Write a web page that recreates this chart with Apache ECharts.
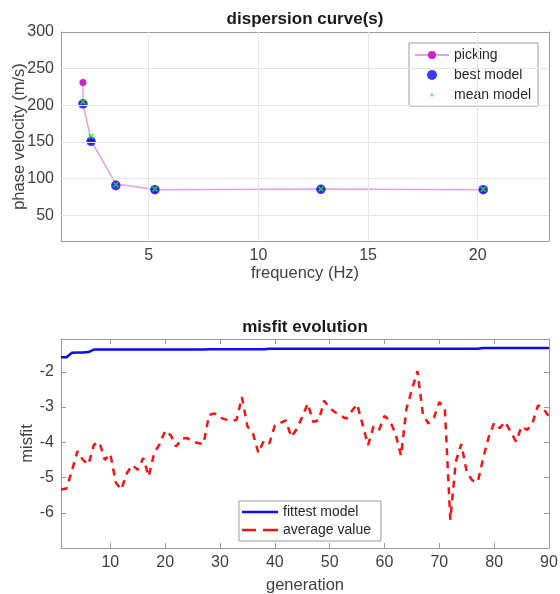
<!DOCTYPE html>
<html>
<head>
<meta charset="utf-8">
<script src="https://cdn.jsdelivr.net/npm/echarts@6/dist/echarts.min.js"></script>
<style>html,body{margin:0;padding:0;background:#fff}#c{width:560px;height:594px}</style>
</head>
<body>
<div id="c"></div>
<script>
// ---- dispersion curve data ----
const freqPicking = [2.0, 2.0, 2.37, 3.5, 5.28, 12.85, 20.25];
const velPicking  = [231, 203, 152, 93, 85, 86, 85];
const freqModel   = [2.0, 2.37, 3.5, 5.28, 12.85, 20.25];
const velBest     = [202, 151, 90.5, 85, 85.5, 85];
const velMean     = [204.5, 158, 92, 86, 86, 85.5];
const freqTicks   = [5, 10, 15, 20];
const velTicks    = [50, 100, 150, 200, 250, 300];

// ---- misfit evolution data (generation 1..90) ----
const fittest = [
  -1.59,-1.59,-1.46,-1.45,-1.45,-1.44,
  -1.37,-1.37,-1.37,-1.37,-1.37,-1.37,-1.37,-1.37,-1.37,-1.37,-1.37,
  -1.37,-1.37,-1.37,-1.37,-1.37,-1.37,-1.37,-1.37,-1.37,-1.37,
  -1.36,-1.36,-1.36,-1.36,-1.36,-1.36,-1.36,-1.36,-1.36,-1.36,-1.36,
  -1.345,-1.345,-1.345,-1.345,-1.345,-1.345,-1.345,-1.345,-1.345,-1.345,-1.345,-1.345,-1.345,
  -1.345,-1.345,-1.345,-1.345,-1.345,-1.345,-1.345,-1.345,-1.345,-1.345,-1.345,-1.345,-1.345,
  -1.345,-1.345,-1.345,-1.345,-1.345,-1.345,-1.345,-1.345,-1.345,-1.345,-1.345,-1.345,-1.345,
  -1.325,-1.325,-1.325,-1.325,-1.325,-1.325,-1.325,-1.325,-1.325,-1.325,-1.325,-1.325,-1.325
];
const average = [
  -5.34,-5.31,-4.8,-4.25,-4.5,-4.63,-4.07,-4.0,-4.5,-4.33,
  -5.15,-5.34,-4.88,-4.65,-4.78,-4.45,-4.97,-4.3,-4.05,-3.67,
  -3.8,-4.12,-3.9,-3.88,-3.98,-4.02,-4.05,-3.22,-3.18,-3.3,
  -3.35,-3.38,-3.37,-2.72,-3.55,-3.75,-4.3,-3.95,-4.03,-3.52,
  -3.45,-3.38,-3.85,-3.62,-3.28,-2.9,-3.42,-3.38,-2.82,-3.03,
  -3.15,-3.25,-3.33,-3.12,-2.92,-3.5,-4.08,-3.55,-3.65,-3.25,
  -3.4,-3.75,-4.38,-3.05,-2.5,-1.98,-3.2,-3.47,-3.3,-2.86,
  -3.05,-6.2,-4.55,-4.05,-4.85,-5.08,-5.13,-4.45,-3.85,-3.45,
  -3.6,-3.42,-3.7,-3.98,-3.55,-3.65,-3.45,-2.95,-3.05,-3.28
];
const genTicks    = [10, 20, 30, 40, 50, 60, 70, 80, 90];
const misfitTicks = [-6, -5, -4, -3, -2];

const FONT = '"Liberation Sans", Arial, sans-serif';
const FRAME = '#9a9a9a';
const LABEL = '#404040';

const pairs = (xs, ys) => ys.map((v, i) => [xs[i], v]);
const genPairs = arr => arr.map((v, i) => [i + 1, v]);

function mkX(gridIndex, min, max, ticks, name, main, gap) {
  return {
    type: 'value', gridIndex, min, max,
    position: main ? 'bottom' : 'top',
    axisLine: { show: true, onZero: false, lineStyle: { color: FRAME, width: 1 } },
    axisTick: { show: true, inside: true, length: 5, customValues: ticks, lineStyle: { color: FRAME } },
    axisLabel: { show: main, customValues: ticks, fontSize: 16, color: LABEL, fontFamily: FONT, margin: 7 },
    splitLine: { show: false },
    name: main ? name : '', nameLocation: 'middle', nameGap: gap || 0,
    nameTextStyle: { fontSize: 16.5, color: LABEL, fontFamily: FONT }
  };
}
function mkY(gridIndex, min, max, ticks, name, main, gap) {
  return {
    type: 'value', gridIndex, min, max,
    position: main ? 'left' : 'right',
    axisLine: { show: true, onZero: false, lineStyle: { color: FRAME, width: 1 } },
    axisTick: { show: true, inside: true, length: 5, customValues: ticks, lineStyle: { color: FRAME } },
    axisLabel: { show: main, customValues: ticks, fontSize: 16, color: LABEL, fontFamily: FONT, margin: 7 },
    splitLine: { show: false },
    name: main ? name : '', nameLocation: 'middle', nameGap: gap || 0, nameRotate: 90,
    nameMoveOverlap: false,
    nameTextStyle: { fontSize: 16.5, color: LABEL, fontFamily: FONT }
  };
}

const chart = echarts.init(document.getElementById('c'), null, { renderer: 'canvas' });
chart.setOption({
  animation: false,
  backgroundColor: '#fff',
  textStyle: { fontFamily: FONT },
  grid: [
    { left: 61, top: 32, width: 488, height: 209, outerBoundsMode: 'none', containLabel: false },
    { left: 61, top: 339, width: 488, height: 209, outerBoundsMode: 'none', containLabel: false }
  ],
  xAxis: [
    mkX(0, 1, 23.25, freqTicks, 'frequency (Hz)', true, 23),
    mkX(0, 1, 23.25, freqTicks, '', false),
    mkX(1, 1, 90, genTicks, 'generation', true, 29),
    mkX(1, 1, 90, genTicks, '', false)
  ],
  yAxis: [
    mkY(0, 15, 300, velTicks, 'phase velocity (m/s)', true, 33),
    mkY(0, 15, 300, velTicks, '', false),
    mkY(1, -7, -1.07, misfitTicks, 'misfit', true, 25),
    mkY(1, -7, -1.07, misfitTicks, '', false)
  ],
  legend: [
    {
      left: 409, top: 43, orient: 'vertical',
      itemWidth: 34, itemHeight: 10, itemGap: 6,
      padding: [5, 7, 4, 5],
      borderColor: FRAME, borderWidth: 1, backgroundColor: '#fff',
      textStyle: { fontSize: 14, color: '#262626', fontFamily: FONT, lineHeight: 14 },
      data: [
        { name: 'picking' },
        { name: 'best model' },
        { name: 'mean model', icon: 'path://M0,0M20,20M6.5,8L8,6.5L10,8.5L12,6.5L13.5,8L11.5,10L13.5,12L12,13.5L10,11.5L8,13.5L6.5,12L8.5,10Z' }
      ]
    },
    {
      left: 239, top: 501, orient: 'vertical',
      itemWidth: 36, itemHeight: 10, itemGap: 4,
      padding: [4, 10, 4, 3],
      borderColor: FRAME, borderWidth: 1, backgroundColor: '#fff',
      itemStyle: { borderWidth: 0 },
      textStyle: { fontSize: 14, color: '#262626', fontFamily: FONT, lineHeight: 14 },
      data: [
        { name: 'fittest model', icon: 'path://M0,0M36,10M0,3.75L36,3.75L36,6.25L0,6.25Z' },
        { name: 'average value', icon: 'path://M0,0M36,10M0,3.75L14,3.75L14,6.25L0,6.25ZM21,3.75L36,3.75L36,6.25L21,6.25Z' }
      ]
    }
  ],
  graphic: [
    { type: 'text', x: 305, y: 19, style: { text: 'dispersion curve(s)', font: 'bold 17px ' + FONT, fill: '#1a1a1a', textAlign: 'center', textVerticalAlign: 'middle' } },
    { type: 'text', x: 305, y: 327, style: { text: 'misfit evolution', font: 'bold 17px ' + FONT, fill: '#1a1a1a', textAlign: 'center', textVerticalAlign: 'middle' } }
  ],
  series: [
    // grid lines of the top panel, at the tick values
    {
      type: 'line', xAxisIndex: 0, yAxisIndex: 0, data: [], silent: true,
      markLine: {
        silent: true, symbol: 'none', label: { show: false },
        lineStyle: { color: '#e6e6e6', type: 'solid', width: 1 },
        data: freqTicks.map(v => ({ xAxis: v })).concat(velTicks.filter(v => v < 300).map(v => ({ yAxis: v })))
      },
      z: 1
    },
    {
      name: 'picking', type: 'line', xAxisIndex: 0, yAxisIndex: 0,
      data: pairs(freqPicking, velPicking),
      symbol: 'circle', symbolSize: 7, showSymbol: true,
      itemStyle: { color: '#cc22cc' },
      lineStyle: { color: '#e2a2e2', width: 1.5 }, z: 3
    },
    {
      name: 'best model', type: 'scatter', xAxisIndex: 0, yAxisIndex: 0,
      data: pairs(freqModel, velBest),
      symbol: 'circle', symbolSize: 9.5,
      itemStyle: { color: '#0a0af5' }, z: 4
    },
    {
      name: 'mean model', type: 'scatter', xAxisIndex: 0, yAxisIndex: 0,
      data: pairs(freqModel, velMean),
      symbol: 'path://M0,2L2,0L5,3L8,0L10,2L7,5L10,8L8,10L5,7L2,10L0,8L3,5Z', symbolSize: 6,
      itemStyle: { color: '#22ee22' }, z: 5
    },
    {
      name: 'fittest model', type: 'line', xAxisIndex: 2, yAxisIndex: 2,
      data: genPairs(fittest), symbol: 'none',
      itemStyle: { color: '#0c0cf0' },
      lineStyle: { color: '#0c0cf0', width: 2.5 }, z: 3
    },
    {
      name: 'average value', type: 'line', xAxisIndex: 2, yAxisIndex: 2,
      data: genPairs(average), symbol: 'none',
      itemStyle: { color: '#ff1010' },
      lineStyle: { color: '#ff1010', width: 2.5, type: [7, 6] }, z: 3
    }
  ]
});
</script>
</body>
</html>
